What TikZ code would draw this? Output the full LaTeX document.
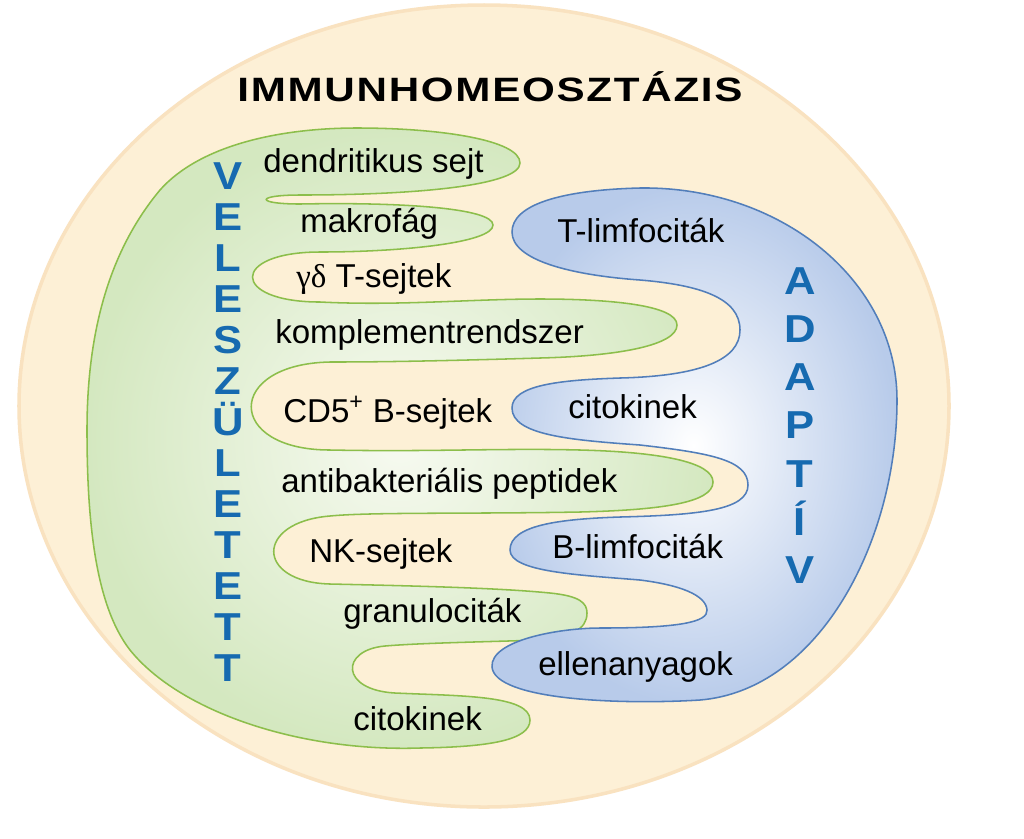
\documentclass[tikz,border=0pt]{standalone}
\usepackage{fontspec}
\setmainfont{Liberation Sans}
\newfontfamily\greekfont{Liberation Serif}
\usepackage{graphicx}

\definecolor{peach}{RGB}{253,240,214}
\definecolor{peachrim}{RGB}{249,226,192}
\definecolor{innline}{RGB}{140,190,75}
\definecolor{innfill}{RGB}{212,232,192}
\definecolor{innmid}{RGB}{247,250,241}
\definecolor{adpline}{RGB}{82,126,186}
\definecolor{adpfill}{RGB}{184,203,234}
\definecolor{sideblue}{RGB}{22,106,176}

\begin{document}
\begin{tikzpicture}[x=0.025cm,y=-0.025cm,
  lbl/.style={anchor=base west, inner sep=0pt, font=\fontsize{23.5}{28}\selectfont},
  sidelbl/.style={anchor=base, inner sep=0pt, text=sideblue, font=\fontsize{27.7}{32}\selectfont\bfseries},
  innpart/.style={draw=innline, line width=1.1pt, inner color=innmid, outer color=innfill},
  adppart/.style={draw=adpline, line width=1.1pt, inner color=white, outer color=adpfill}]
\useasboundingbox (0,0) rectangle (1024,838);
\fill[white] (0,0) rectangle (1024,838);
% outer field
\path[fill=peach, draw=peachrim, line width=2.5pt] (484,406) ellipse [x radius=465, y radius=401];
% veleszuletett part
\path[innpart] (357,128)
  .. controls (440,128) and (520,140) .. (520,163)
  .. controls (520,185) and (420,195) .. (300,195)
  .. controls (255,195) and (255,204) .. (300,204)
  .. controls (400,202) and (493,208) .. (493,225)
  .. controls (493,243) and (400,252) .. (320,252)
  .. controls (230,252) and (230,302) .. (320,302)
  .. controls (400,306) and (470,299) .. (540,299)
  .. controls (610,299) and (677,305) .. (677,325)
  .. controls (677,345) and (620,356) .. (540,358)
  .. controls (440,361) and (380,362) .. (330,362)
  .. controls (225,364) and (225,450) .. (330,450)
  .. controls (430,452) and (500,448) .. (580,450)
  .. controls (660,452) and (713,462) .. (713,482)
  .. controls (713,503) and (660,510) .. (580,512)
  .. controls (470,514) and (370,512) .. (330,516)
  .. controls (255,522) and (255,582) .. (330,584)
  .. controls (420,586) and (500,588) .. (550,593)
  .. controls (580,596) and (587,603) .. (587,613)
  .. controls (587,630) and (570,637) .. (540,640)
  .. controls (480,642) and (420,643) .. (385,646)
  .. controls (340,650) and (340,690) .. (395,693)
  .. controls (460,696) and (530,695) .. (530,720)
  .. controls (530,740) and (490,747) .. (420,748)
  .. controls (300,752) and (180,712) .. (130,650)
  .. controls (95,605) and (87,520) .. (87,430)
  .. controls (87,330) and (110,250) .. (160,190)
  .. controls (200,145) and (280,128) .. (357,128) -- cycle;
% adaptiv part
\path[adppart] (512,232)
  .. controls (512,205) and (560,190) .. (640,188)
  .. controls (780,186) and (897,280) .. (897,400)
  .. controls (897,540) and (820,690) .. (700,700)
  .. controls (620,705) and (495,700) .. (492,667)
  .. controls (490,640) and (560,628) .. (600,628)
  .. controls (680,628) and (708,622) .. (707,610)
  .. controls (706,595) and (680,585) .. (640,580)
  .. controls (580,575) and (510,572) .. (510,550)
  .. controls (510,525) and (560,519) .. (620,517)
  .. controls (700,515) and (748,510) .. (748,485)
  .. controls (748,460) and (710,453) .. (640,445)
  .. controls (570,440) and (512,435) .. (512,408)
  .. controls (512,385) and (560,380) .. (620,378)
  .. controls (700,376) and (740,360) .. (740,330)
  .. controls (740,298) and (700,285) .. (640,280)
  .. controls (570,275) and (512,260) .. (512,232) -- cycle;
% title
\node[anchor=base, inner sep=0pt, font=\fontsize{24}{28}\selectfont\bfseries] (title) at (490,101)
  {\scalebox{1.25}[1]{\addfontfeature{LetterSpace=4}IMMUNHOMEOSZTÁZIS}};
% side words
\foreach \ch [count=\i from 0] in {V,E,L,E,S,Z,Ü,L,E,T,E,T,T}
  \node[sidelbl] (v\i) at (228,189+41*\i) {\scalebox{1.12}[1]{\ch}};
\foreach \ch [count=\i from 0] in {A,D,A,P,T,Í,V}
  \node[sidelbl] (a\i) at (800,294+48.3*\i) {\scalebox{1.12}[1]{\ch}};
% labels, left
\node[lbl] (dendr) at (263,172) {dendritikus sejt};
\node[lbl] (makro) at (300,232) {makrofág};
\node[lbl] (gdt) at (296,287) {{\greekfont γδ} T-sejtek};
\node[lbl] (kompl) at (275,343) {komplementrendszer};
\node[lbl] (cdfive) at (283,422) {CD5\textsuperscript{+} B-sejtek};
\node[lbl] (antib) at (281,492) {antibakteriális peptidek};
\node[lbl] (nksejt) at (309,562) {NK-sejtek};
\node[lbl] (granul) at (343,622) {granulociták};
\node[lbl] (citoinn) at (353,730) {citokinek};
% labels, right
\node[lbl] (tlimf) at (557,242) {T-limfociták};
\node[lbl] (citoadp) at (568,418) {citokinek};
\node[lbl] (blimf) at (552,558) {B-limfociták};
\node[lbl] (ellen) at (538,675) {ellenanyagok};
\end{tikzpicture}
\end{document}
